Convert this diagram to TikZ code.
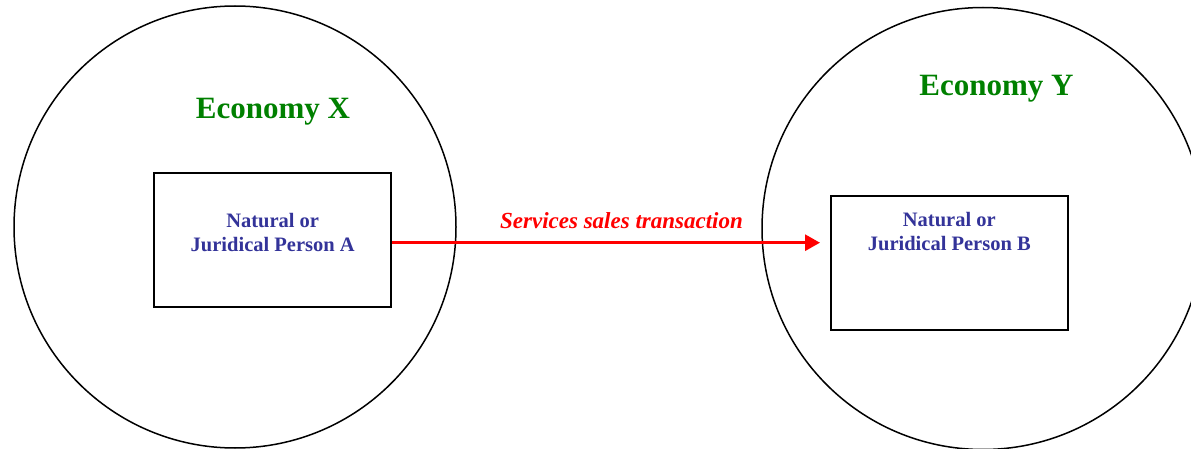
\documentclass[tikz,border=0pt]{standalone}
\usepackage{fontspec}
\setmainfont{Liberation Serif}
\usetikzlibrary{arrows.meta}
\definecolor{econgreen}{RGB}{0,128,0}
\definecolor{persblue}{RGB}{51,51,153}
\definecolor{txred}{RGB}{255,0,0}
\begin{document}
\begin{tikzpicture}[x=1pt,y=-1pt,
  economy/.style={circle,draw=black,line width=1.5pt,minimum size=442pt,inner sep=0pt},
  personbox/.style={draw=black,line width=2pt,minimum width=237pt,minimum height=134pt,inner sep=0pt},
  econlabel/.style={text=econgreen,font=\fontsize{31}{36}\selectfont\bfseries,inner sep=0pt},
  perslabel/.style={text=persblue,font=\fontsize{20.5}{24}\selectfont\bfseries,align=center,inner sep=0pt},
  txlabel/.style={text=txred,font=\fontsize{23}{27}\selectfont\bfseries\itshape,inner sep=0pt},
  txarrow/.style={draw=txred,line width=3pt,-{Triangle[length=15pt,width=16pt]}}
]
\useasboundingbox (0,0) rectangle (1191,449);
\clip (0,0) rectangle (1191,449);
\node[economy] (ex) at (235,227) {};
\node[economy] (ey) at (983,228.5) {};
\node[econlabel] (lx) at (273,111.5) {Economy X};
\node[econlabel] (ly) at (996.5,88.5) {Economy Y};
\node[personbox] (pa) at (272.5,240) {};
\node[personbox] (pb) at (949.7,263.4) {};
\node[perslabel] (ta) at (272.7,233) {Natural or\\Juridical Person A};
\node[perslabel] (tb) at (949.3,232) {Natural or\\Juridical Person B};
\coordinate (tip) at (820,242.7);
\draw[txarrow] (pa.east |- tip) -- (tip);
\node[txlabel] (tl) at (621.5,221) {Services sales transaction};
\end{tikzpicture}
\end{document}
